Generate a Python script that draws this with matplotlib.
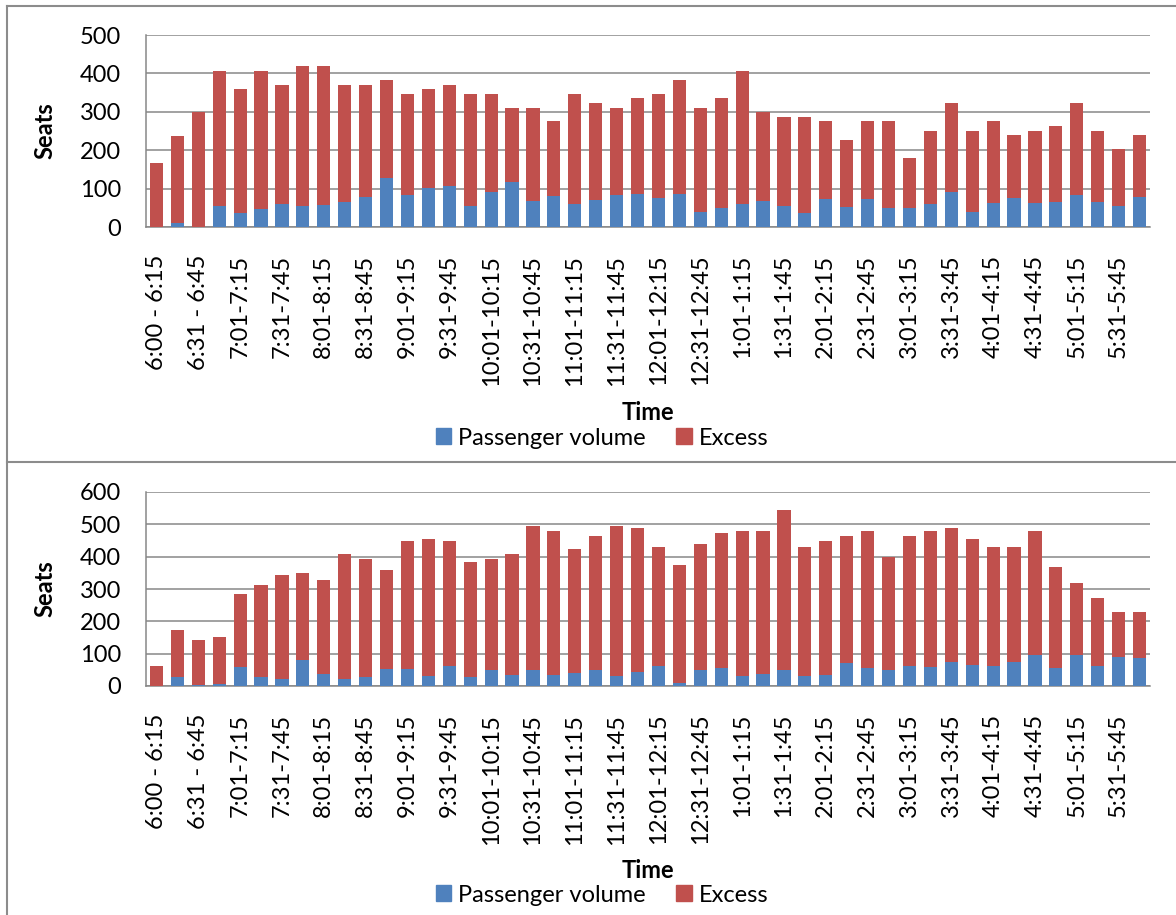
import numpy as np
import matplotlib
matplotlib.use("Agg")
import matplotlib.pyplot as plt
from matplotlib.patches import Patch
from matplotlib.lines import Line2D

plt.rcParams['font.family'] = ['Lato', 'DejaVu Sans']

# every other 15-minute slot gets a label
time_labels = ["6:00 - 6:15", "6:31 - 6:45", "7:01-7:15", "7:31-7:45",
               "8:01-8:15", "8:31-8:45", "9:01-9:15", "9:31-9:45",
               "10:01-10:15", "10:31-10:45", "11:01-11:15", "11:31-11:45",
               "12:01-12:15", "12:31-12:45", "1:01-1:15", "1:31-1:45",
               "2:01-2:15", "2:31-2:45", "3:01-3:15", "3:31-3:45",
               "4:01-4:15", "4:31-4:45", "5:01-5:15", "5:31-5:45"]

# first route
passengers_a = [0, 11, 0, 55, 36, 47, 61, 55, 57, 65, 78, 127,
                83, 101, 106, 55, 90, 118, 69, 80, 61, 70, 83, 87,
                75, 86, 39, 49, 60, 68, 55, 36, 73, 53, 74, 49,
                49, 60, 91, 38, 63, 75, 62, 66, 84, 65, 54, 78]
excess_a = [166, 227, 299, 351, 323, 359, 310, 364, 362, 306, 293, 256,
            264, 258, 265, 292, 257, 193, 242, 195, 286, 253, 228, 248,
            272, 297, 272, 286, 346, 231, 232, 251, 202, 174, 201, 226,
            130, 190, 231, 212, 212, 164, 188, 197, 238, 185, 149, 161]

# second route
passengers_b = [0, 28, 2, 6, 58, 29, 23, 80, 36, 21, 27, 53,
                53, 30, 62, 27, 48, 34, 51, 33, 41, 51, 32, 44,
                61, 8, 49, 55, 32, 36, 51, 32, 33, 72, 55, 48,
                62, 60, 73, 66, 62, 73, 95, 57, 96, 62, 91, 86]
excess_b = [62, 146, 140, 145, 228, 282, 320, 270, 291, 386, 365, 305,
            394, 425, 385, 356, 344, 373, 445, 446, 383, 412, 464, 444,
            370, 366, 390, 417, 447, 443, 492, 399, 414, 391, 424, 351,
            401, 419, 415, 389, 369, 358, 384, 310, 222, 209, 139, 144]

blue = '#4F81BD'
red = '#C0504D'
grey = '#878787'
W, H = 1176, 915

fig = plt.figure(figsize=(W / 100, H / 100), dpi=100)


def draw_panel(rect, pax, exc, ymax, seats_y, time_y, legend_y):
    ax = fig.add_axes(rect)
    x = np.arange(len(pax))
    ax.bar(x, pax, width=0.63, color=blue, zorder=3)
    ax.bar(x, exc, width=0.63, bottom=pax, color=red, zorder=3)
    ax.set_xlim(-0.5, len(pax) - 0.5)
    ax.set_ylim(0, ymax)
    ax.set_yticks(np.arange(0, ymax + 1, 100))
    ax.set_xticks(x[::2])
    ax.set_xticklabels(time_labels, rotation=90)
    ax.tick_params(axis='both', length=0, labelsize=17)
    ax.tick_params(axis='y', pad=18)
    ax.tick_params(axis='x', pad=20)
    ax.yaxis.grid(True, color=grey, lw=1.1, zorder=0)
    ax.set_axisbelow(True)
    for s in ['top', 'right']:
        ax.spines[s].set_visible(False)
    for s in ['left', 'bottom']:
        ax.spines[s].set_color(grey)
        ax.spines[s].set_linewidth(1.1)

    fig.text(45 / W, 1 - seats_y / H, 'Seats', rotation=90, ha='center',
             va='center', fontsize=17, fontweight='bold')
    fig.text(648 / W, 1 - time_y / H, 'Time', ha='center', va='center',
             fontsize=17, fontweight='bold')
    handles = [Patch(color=blue, label='Passenger volume'),
               Patch(color=red, label='Excess')]
    fig.legend(handles=handles, loc='center', ncol=2, frameon=False,
               bbox_to_anchor=(602 / W, 1 - legend_y / H), fontsize=17,
               handlelength=0.65, handleheight=0.65, handletextpad=0.3,
               columnspacing=1.3, borderpad=0, borderaxespad=0)
    return ax


left = 146 / W
width = (1150 - 146) / W
draw_panel([left, 1 - 227 / H, width, 192 / H], passengers_a, excess_a,
           500, 131, 413, 438)
draw_panel([left, 1 - 686 / H, width, 194 / H], passengers_b, excess_b,
           600, 589, 870, 895)

# chart frames
frame = dict(color='#8c8c8c', lw=1.5, transform=fig.transFigure)
fig.add_artist(Line2D([7 / W, 1], [1 - 6 / H, 1 - 6 / H], **frame))
fig.add_artist(Line2D([7 / W, 7 / W], [0, 1 - 6 / H], **frame))
fig.add_artist(Line2D([7 / W, 1], [1 - 462 / H, 1 - 462 / H], **frame))

fig.savefig('out.png', dpi=100)
